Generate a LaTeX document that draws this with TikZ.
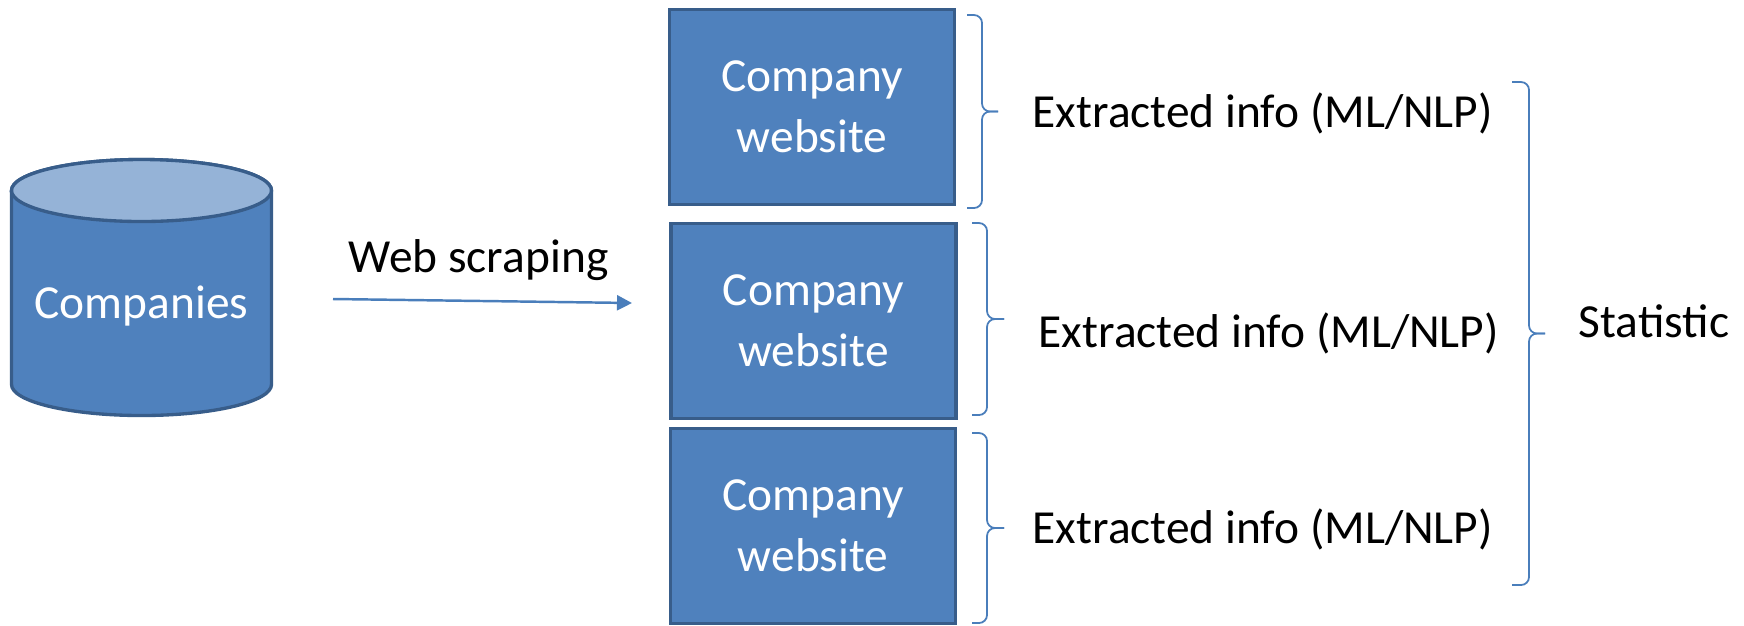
\documentclass[tikz,border=0pt]{standalone}
\usepackage{fontspec}
\setmainfont{Carlito}
\usepackage{tikz}
\usetikzlibrary{arrows.meta}
\usepackage{xcolor}
\definecolor{boxfill}{HTML}{4F81BD}
\definecolor{boxline}{HTML}{385D8A}
\definecolor{cyltop}{HTML}{95B3D7}
\definecolor{linkblue}{HTML}{4A7EBB}

\begin{document}
\begin{tikzpicture}[
  font=\fontsize{13.5}{16.2}\selectfont,
  sitebox/.style={rectangle, fill=boxfill, draw=boxline, line width=1pt,
    minimum width=2.85cm, minimum height=1.95cm, align=center, text=white,
    font=\fontsize{13.5}{17.4}\selectfont},
  plain/.style={inner sep=0pt, anchor=base west},
  infobrace/.style={draw=linkblue, line width=0.5pt, rounded corners=0.08cm}
]
\useasboundingbox (0,0) rectangle (17.44,6.25);

% database
\filldraw[fill=boxfill, draw=boxline, line width=0.95pt]
  (0.115,4.345) -- (0.115,2.405)
  arc[start angle=180, end angle=360, x radius=1.3, y radius=0.31]
  -- (2.715,4.345)
  arc[start angle=0, end angle=180, x radius=1.3, y radius=0.31] -- cycle;
\filldraw[fill=cyltop, draw=boxline, line width=0.95pt]
  (1.415,4.345) ellipse [x radius=1.3, y radius=0.31];
\node[inner sep=0pt, anchor=base, text=white] (companies) at (1.415,3.07) {Companies};

% scraping
\coordinate (scrapestart) at (3.33,3.26);
\coordinate (scrapeend) at (6.32,3.22);
\draw[linkblue, line width=0.7pt, -{Triangle[length=0.15cm,width=0.15cm]}] (scrapestart) -- (scrapeend);
\node[inner sep=0pt, anchor=base] (scraping) at (4.785,3.53) {Web scraping};

% websites
\node[sitebox] (site1) at (8.12,5.18) {Company\\website};
\node[sitebox] (site2) at (8.135,3.04) {Company\\website};
\node[sitebox] (site3) at (8.13,0.99) {Company\\website};

% extracted info
\draw[infobrace] (9.67,6.10) -- (9.82,6.10) -- (9.82,5.135) -- (9.98,5.135);
\draw[infobrace] (9.67,4.17) -- (9.82,4.17) -- (9.82,5.135) -- (9.98,5.135);
\draw[infobrace] (9.72,4.02) -- (9.87,4.02) -- (9.87,3.06) -- (10.04,3.06);
\draw[infobrace] (9.72,2.10) -- (9.87,2.10) -- (9.87,3.06) -- (10.04,3.06);
\draw[infobrace] (9.72,1.92) -- (9.87,1.92) -- (9.87,0.97) -- (10.04,0.97);
\draw[infobrace] (9.72,0.02) -- (9.87,0.02) -- (9.87,0.97) -- (10.04,0.97);

\node[plain] (info1) at (10.32,4.98) {Extracted info (ML/NLP)};
\node[plain] (info2) at (10.38,2.78) {Extracted info (ML/NLP)};
\node[plain] (info3) at (10.32,0.82) {Extracted info (ML/NLP)};

% statistic
\draw[infobrace] (15.12,5.43) -- (15.29,5.43) -- (15.29,2.915) -- (15.45,2.915);
\draw[infobrace] (15.12,0.40) -- (15.29,0.40) -- (15.29,2.915) -- (15.45,2.915);
\node[plain] (stat) at (15.78,2.88) {Statistic};

\end{tikzpicture}
\end{document}
